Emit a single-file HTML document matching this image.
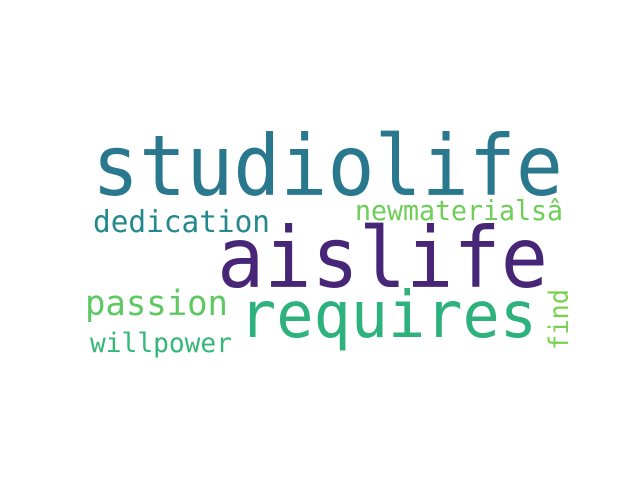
<!DOCTYPE html>
<html><head><meta charset="utf-8"><style>
html,body{margin:0;padding:0;background:#fff;}
svg text{font-family:"DejaVu Sans Mono","Liberation Mono",monospace;}
</style></head><body>
<svg width="640" height="480">
<rect width="640" height="480" fill="#fff"/>
<text x="92" y="195" font-size="84" fill="#2a788e" textLength="471" lengthAdjust="spacingAndGlyphs">studiolife</text>
<text x="217" y="287" font-size="84" fill="#482677" textLength="331" lengthAdjust="spacingAndGlyphs">aislife</text>
<text x="239" y="337" font-size="64" fill="#2db27d" textLength="298" lengthAdjust="spacingAndGlyphs">requires</text>
<text x="93" y="232" font-size="30" fill="#23898e" textLength="177" lengthAdjust="spacingAndGlyphs">dedication</text>
<text x="355" y="220" font-size="28" fill="#6ece58" textLength="208" lengthAdjust="spacingAndGlyphs">newmaterialsâ</text>
<text x="85" y="315" font-size="35" fill="#5ec962" textLength="143" lengthAdjust="spacingAndGlyphs">passion</text>
<text x="90" y="352" font-size="27" fill="#35b779" textLength="142" lengthAdjust="spacingAndGlyphs">willpower</text>
<text transform="translate(568,350) rotate(-90)" font-size="27" fill="#7ad151" textLength="61" lengthAdjust="spacingAndGlyphs">find</text>
</svg>
</body></html>
